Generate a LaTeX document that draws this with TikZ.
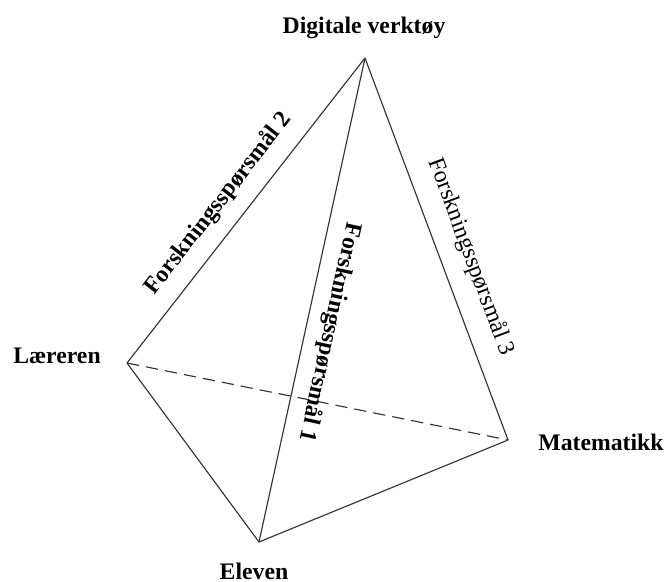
\documentclass[tikz,border=0pt]{standalone}
\usepackage{fontspec}
\setmainfont{Liberation Serif}
\usepackage{tikz}

\tikzset{
  edgeline/.style={draw=black!80, line width=0.65pt},
  hiddenline/.style={edgeline, dash pattern=on 7pt off 4pt},
  cornerlabel/.style={font=\fontsize{13.5}{16}\selectfont\bfseries, inner sep=0pt},
  rqlabel/.style={font=\fontsize{13.5}{16}\selectfont\bfseries, inner sep=0pt, sloped, allow upside down}
}

\begin{document}
\begin{tikzpicture}[x=0.02cm, y=-0.02cm]
                % Fix the page size to the reference
                \useasboundingbox (0,0) rectangle (667,582);
                % Corners of the tetrahedron
                \coordinate (verktoy) at (365,58);
                \coordinate (laerer) at (127,363);
                \coordinate (matte) at (508,440);
                \coordinate (elev) at (259,542);
                % Corner names
                \node[cornerlabel] (verktoytext) at (364,28) {Digitale verktøy};
                \node[cornerlabel] (laerertext) at (57,356) {Læreren};
                \node[cornerlabel] (mattetext) at (601,442) {Matematikk};
                \node[cornerlabel] (elevtext) at (254,571) {Eleven};
                % Hidden edge behind
                \draw[hiddenline] (laerer) -- (matte);
                % Visible edges
                \draw[edgeline] (laerer) -- (verktoy)
                    node[rqlabel, pos=0.47, above=8pt] (rq2) {Forskningsspørsmål 2};
                \draw[edgeline] (verktoy) -- (elev)
                    node[rqlabel, pos=0.556, above=7pt] (rq1) {Forskningsspørsmål 1};
                \draw[edgeline] (verktoy) -- (matte)
                    node[rqlabel, font=\fontsize{13.5}{16}\selectfont, pos=0.548, above=10pt] (rq3) {Forskningsspørsmål 3};
                \draw[edgeline] (laerer) -- (elev) -- (matte);
            \end{tikzpicture}
\end{document}
